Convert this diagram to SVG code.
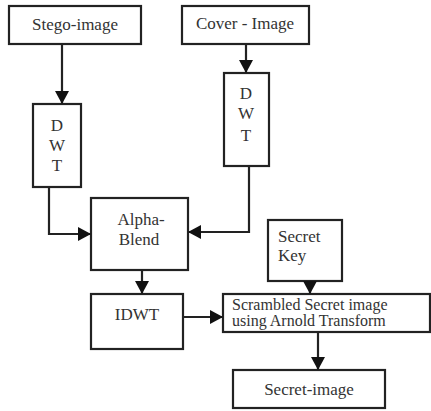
<svg xmlns="http://www.w3.org/2000/svg" width="431" height="411" viewBox="0 0 431 411">
<defs>
<marker id="ah" markerUnits="userSpaceOnUse" markerWidth="14" markerHeight="14" viewBox="0 0 14 14" refX="13" refY="7" orient="auto">
<path d="M0,0 L13,7 L0,14 Z" fill="#111"/>
</marker>
</defs>
<style>
rect{fill:#fff;stroke:#222;stroke-width:2.2}
text{font-family:'Liberation Serif',serif;font-size:17px;fill:#333}
.c{text-anchor:middle}
.s{font-size:16px}
#connectors path{fill:none;stroke:#222;stroke-width:2.2}
</style>
<rect x="0" y="0" width="431" height="411" style="stroke:none;fill:#fff"/>
<g id="stego"><rect x="9" y="6" width="132" height="38"/><text class="c" x="75" y="30">Stego-image</text></g>
<g id="cover"><rect x="182" y="6" width="127" height="38"/><text class="c" x="245" y="29">Cover - Image</text></g>
<g id="dwt1"><rect x="33" y="104" width="48" height="83"/><text class="c" x="57" y="131">D</text><text class="c" x="57" y="151">W</text><text class="c" x="57" y="171">T</text></g>
<g id="dwt2"><rect x="224" y="73" width="45" height="93"/><text class="c" x="246" y="99">D</text><text class="c" x="246" y="119">W</text><text class="c" x="246" y="141">T</text></g>
<g id="alpha"><rect x="91" y="198" width="97" height="72"/><text class="c" x="141" y="225">Alpha-</text><text class="c" x="139" y="245">Blend</text></g>
<g id="idwt"><rect x="91" y="294" width="92" height="55"/><text class="c" x="137" y="320">IDWT</text></g>
<g id="key"><rect x="268" y="220" width="74" height="61"/><text x="278" y="242">Secret</text><text x="278" y="261">Key</text></g>
<g id="scrambled"><rect x="223" y="294" width="207" height="38"/><text class="s" x="232" y="310">Scrambled Secret image</text><text class="s" x="232" y="326">using Arnold Transform</text></g>
<g id="secret"><rect x="233" y="370" width="152" height="38"/><text class="c" x="309" y="395">Secret-image</text></g>
<g id="connectors">
<path d="M62,44 V104" marker-end="url(#ah)"/>
<path d="M246,44 V73" marker-end="url(#ah)"/>
<path d="M49,187 V234 H91" marker-end="url(#ah)"/>
<path d="M249,166 V232 H188" marker-end="url(#ah)"/>
<path d="M142,270 V294" marker-end="url(#ah)"/>
<path d="M183,317 H223" marker-end="url(#ah)"/>
<path d="M310,281 V294" marker-end="url(#ah)"/>
<path d="M318,332 V370" marker-end="url(#ah)"/>
</g>
</svg>
